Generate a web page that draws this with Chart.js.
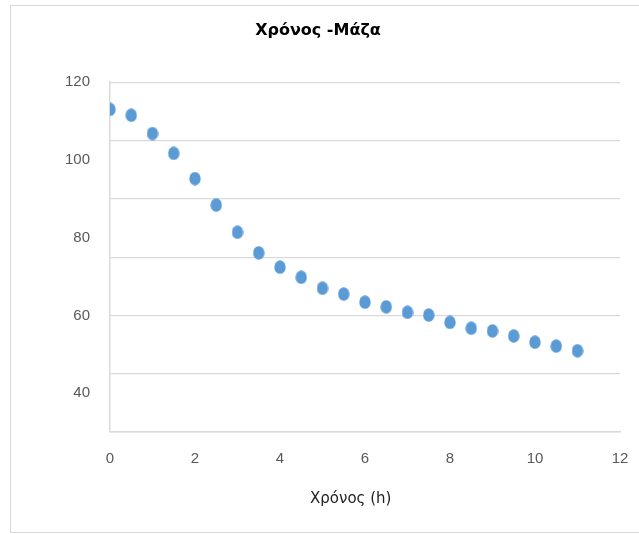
<!DOCTYPE html>
<html>
<head>
<meta charset="utf-8">
<script src="https://cdn.jsdelivr.net/npm/chart.js@4.4.1/dist/chart.umd.min.js"></script>
<style>
    body { margin: 0; background: #fff; overflow: hidden; }
    #wrap { position: relative; width: 639px; height: 534px; }
    #frame { position: absolute; left: 10px; top: 5px; width: 640px; height: 526px; border: 1px solid #d9d9d9; }
    #chart { position: absolute; left: 0; top: 0; }
</style>
</head>
<body>
<div id="wrap">
    <div id="frame"></div>
    <canvas id="chart" width="639" height="534"></canvas>
</div>
<script>
// tijd (h) en massa
const timeHours = [0, 0.5, 1, 1.5, 2, 2.5, 3, 3.5, 4, 4.5, 5, 5.5, 6, 6.5, 7, 7.5, 8, 8.5, 9, 9.5, 10, 10.5, 11];
const massValues = [113.0, 111.5, 106.8, 101.7, 95.2, 88.4, 81.4, 76.1, 72.4, 69.8, 67.0, 65.5, 63.4, 62.2, 60.8, 60.1, 58.2, 56.7, 56.0, 54.7, 53.1, 52.1, 50.9];

// as-instellingen
const yTickLabels = [40, 60, 80, 100, 120];
const yGridValues = [30, 45, 60, 75, 90, 105, 120];
const xTickLabels = [0, 2, 4, 6, 8, 10, 12];

const blue = '#5B9BD5';
const gridGray = '#d9d9d9';
const textGray = '#595959';

// ovaal bolletje zoals in Excel
function makeDot() {
    const c = document.createElement('canvas');
    c.width = 12; c.height = 14;
    const g = c.getContext('2d');
    g.fillStyle = blue;
    g.beginPath();
    g.ellipse(6, 7, 5.7, 6.7, 0, 0, Math.PI * 2);
    g.fill();
    return c;
}
const dot = makeDot();

const points = timeHours.map((t, i) => ({ x: t, y: massValues[i] }));

new Chart(document.getElementById('chart'), {
    type: 'scatter',
    data: {
        datasets: [{
            label: 'Μάζα',
            data: points,
            pointStyle: dot,
            pointRadius: 6,
            pointHoverRadius: 6
        }]
    },
    options: {
        responsive: false,
        animation: false,
        layout: { padding: { left: 16, right: 19, top: 0, bottom: 0 } },
        plugins: {
            legend: { display: false },
            tooltip: { enabled: false },
            title: {
                display: true,
                text: 'Χρόνος -Μάζα',
                color: '#000',
                font: { family: 'DejaVu Sans', size: 16, weight: 'bold' },
                padding: { top: 21, bottom: 42 }
            }
        },
        scales: {
            x: {
                type: 'linear',
                min: 0,
                max: 12,
                afterBuildTicks: axis => { axis.ticks = xTickLabels.map(v => ({ value: v })); },
                afterFit: axis => { axis.height = 102; },
                // onzichtbare tick-streepjes geven de afstand tot de labels
                grid: { display: true, drawOnChartArea: false, drawTicks: true, tickLength: 18, color: 'rgba(0,0,0,0)', tickColor: 'rgba(0,0,0,0)' },
                border: { display: true, color: gridGray, width: 1.5 },
                ticks: { color: textGray, padding: 0, font: { family: 'Liberation Sans', size: 15 } },
                title: {
                    display: true,
                    // spaties erachter schuiven de titel wat naar links, zoals in het origineel
                    text: 'Χρόνος (h)      ',
                    color: '#222',
                    font: { family: 'DejaVu Sans', size: 15 },
                    padding: { top: 0, bottom: 26 }
                }
            },
            y: {
                min: 30,
                max: 120,
                afterBuildTicks: axis => {
                    const all = [...new Set([...yGridValues, ...yTickLabels])].sort((a, b) => a - b);
                    axis.ticks = all.map(v => ({ value: v }));
                },
                afterFit: axis => { axis.width = 94; },
                grid: {
                    drawTicks: false,
                    lineWidth: 1.2,
                    color: ctx => (ctx.tick && yGridValues.includes(ctx.tick.value)) ? gridGray : 'rgba(0,0,0,0)'
                },
                border: { display: true, color: gridGray, width: 1.5 },
                ticks: {
                    color: textGray,
                    padding: 20,
                    font: { family: 'Liberation Sans', size: 15 },
                    callback: v => yTickLabels.includes(v) ? String(v) : ''
                }
            }
        }
    }
});
</script>
</body>
</html>
